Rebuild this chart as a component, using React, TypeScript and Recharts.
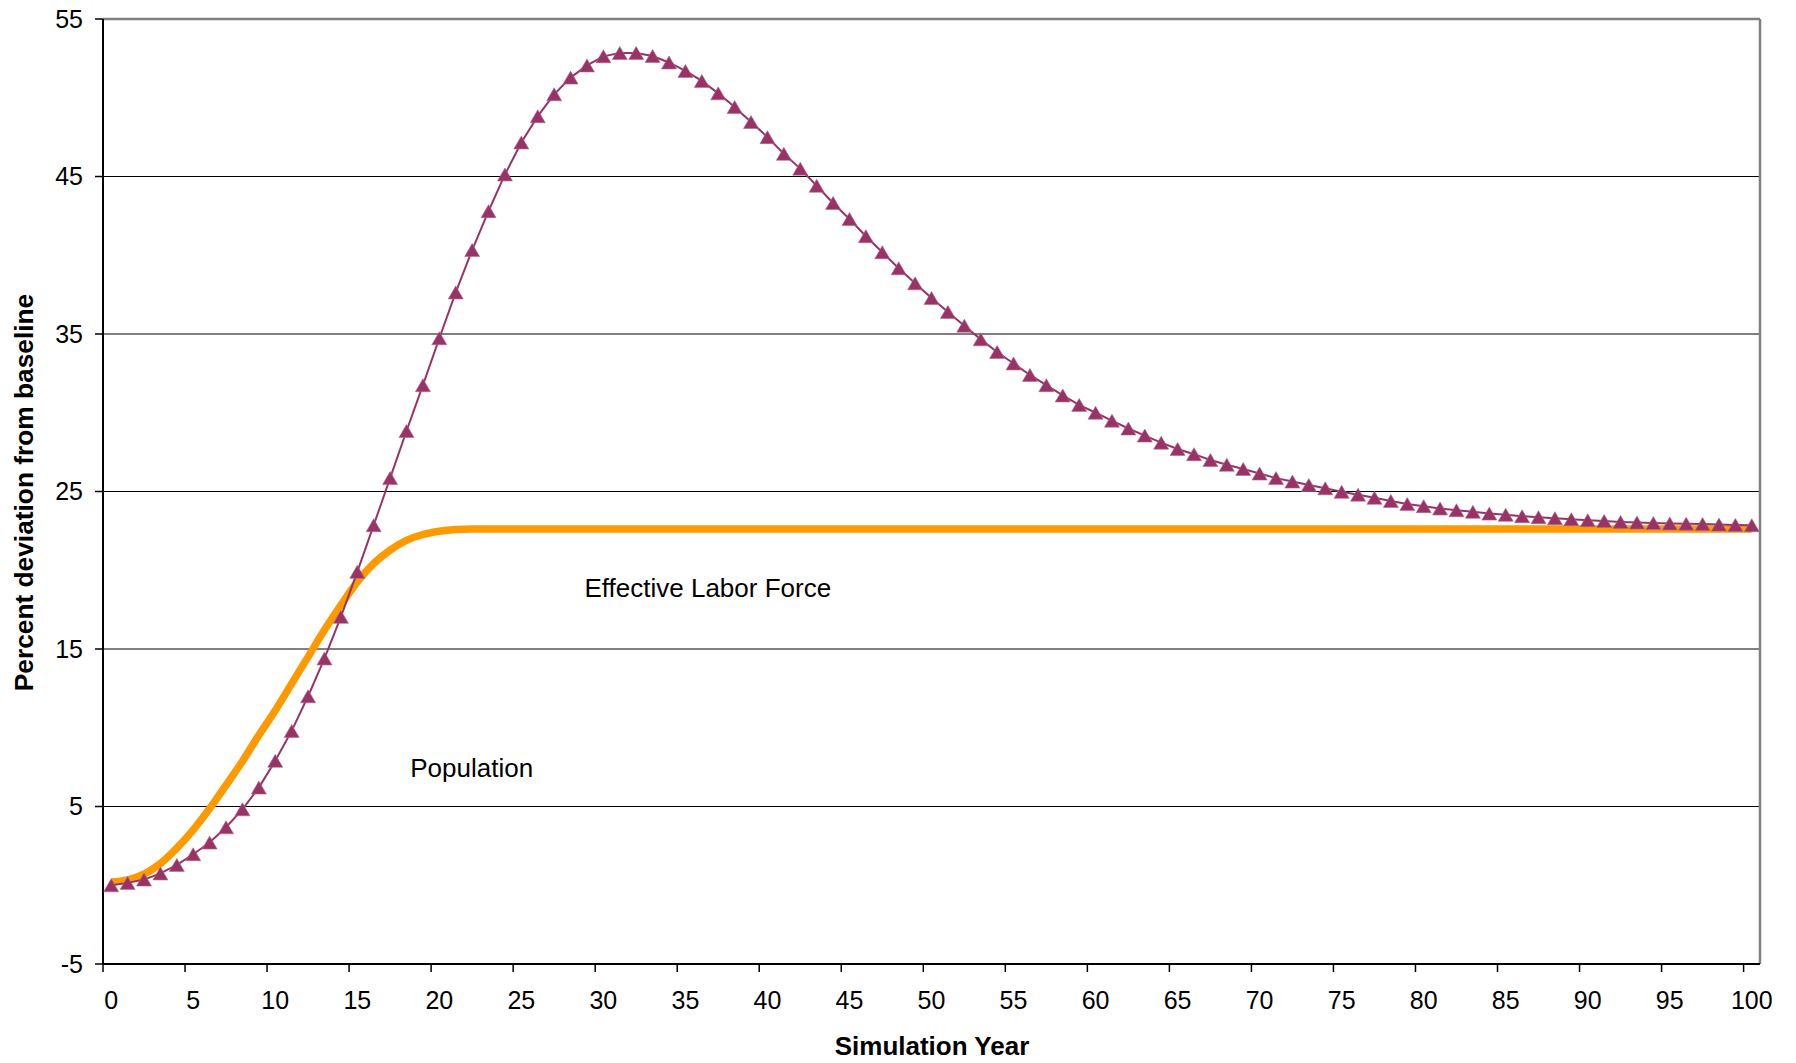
import React from 'react';
import {
  LineChart,
  Line,
  XAxis,
  YAxis,
  CartesianGrid,
  ReferenceLine,
  ReferenceDot,
} from 'recharts';

// ---------- data ----------
const YEARS: number[] = Array.from({ length: 101 }, (_, i) => i);

const X_TICK_LABELS = [0, 5, 10, 15, 20, 25, 30, 35, 40, 45, 50, 55, 60, 65, 70, 75, 80, 85, 90, 95, 100];
const Y_TICKS = [-5, 5, 15, 25, 35, 45, 55];

// Orange smooth line (no markers)
const POPULATION = [
  0.2, 0.34, 0.7, 1.38, 2.36, 3.52, 4.87, 6.35, 7.87, 9.53,
  11.1, 12.8, 14.5, 16.2, 17.78, 19.26, 20.43, 21.28, 21.9, 22.27,
  22.48, 22.59, 22.62, 22.62, 22.62, 22.62, 22.62, 22.62, 22.62, 22.62,
  22.62, 22.62, 22.62, 22.62, 22.62, 22.62, 22.62, 22.62, 22.62, 22.62,
  22.62, 22.62, 22.62, 22.62, 22.62, 22.62, 22.62, 22.62, 22.62, 22.62,
  22.62, 22.62, 22.62, 22.62, 22.62, 22.62, 22.62, 22.62, 22.62, 22.62,
  22.62, 22.62, 22.62, 22.62, 22.62, 22.62, 22.62, 22.62, 22.62, 22.62,
  22.62, 22.62, 22.62, 22.62, 22.62, 22.62, 22.62, 22.62, 22.62, 22.62,
  22.62, 22.62, 22.62, 22.62, 22.62, 22.62, 22.62, 22.62, 22.62, 22.62,
  22.62, 22.62, 22.62, 22.62, 22.62, 22.62, 22.62, 22.62, 22.62, 22.62,
  22.62,
];

// Triangle-marked line
const LABOR_FORCE = [
  0.0, 0.15, 0.36, 0.75, 1.29, 1.97, 2.71, 3.68, 4.82, 6.2,
  7.9, 9.8, 12.0, 14.4, 17.04, 19.9, 22.86, 25.85, 28.84, 31.75,
  34.73, 37.64, 40.33, 42.8, 45.13, 47.16, 48.83, 50.22, 51.28, 52.05,
  52.63, 52.84, 52.84, 52.65, 52.24, 51.7, 51.07, 50.28, 49.41, 48.46,
  47.5, 46.44, 45.5, 44.41, 43.32, 42.3, 41.21, 40.19, 39.17, 38.22,
  37.28, 36.4, 35.53, 34.66, 33.86, 33.13, 32.4, 31.75, 31.1, 30.5,
  30.0, 29.5, 29.0, 28.55, 28.1, 27.7, 27.37, 27.0, 26.7, 26.43,
  26.14, 25.85, 25.63, 25.41, 25.2, 24.98, 24.8, 24.6, 24.4, 24.2,
  24.07, 23.92, 23.81, 23.71, 23.6, 23.52, 23.43, 23.37, 23.3, 23.24,
  23.18, 23.13, 23.07, 23.03, 23.0, 22.97, 22.95, 22.93, 22.9, 22.88,
  22.86,
];

const ANNOTATIONS = [
  { text: 'Effective Labor Force', year: 28.94, value: 18.29 },
  { text: 'Population', year: 18.32, value: 6.88 },
];

const chartData = YEARS.map((year, i) => ({
  year,
  population: POPULATION[i],
  laborForce: LABOR_FORCE[i],
}));

// ---------- layout ----------
const FONT = '"Liberation Sans", Arial, Helvetica, sans-serif';
const CHART_W = 1780;
const CHART_H = 1063;
const MARGIN = { top: 19, right: 28, left: 15, bottom: 0 };
const Y_AXIS_W = 80;
const X_AXIS_H = 99;
const PLOT_W = CHART_W - MARGIN.left - MARGIN.right - Y_AXIS_W;
const HALF_BAND = PLOT_W / YEARS.length / 2;

const XTick = (props: any) => {
  const { x, y, payload } = props;
  const label = Math.round(payload.value + 0.5);
  return (
    <text
      x={x + HALF_BAND}
      y={y}
      dy="0.71em"
      textAnchor="middle"
      fontSize={25}
      fontFamily={FONT}
      fill="#000"
    >
      {label}
    </text>
  );
};

const YTick = (props: any) => {
  const { x, y, payload } = props;
  return (
    <text
      x={x}
      y={y}
      dy="0.355em"
      textAnchor="end"
      fontSize={25}
      fontFamily={FONT}
      fill="#000"
    >
      {payload.value}
    </text>
  );
};

const TriangleDot = (props: any) => {
  const { cx, cy, index } = props;
  if (cx == null || cy == null) return <g key={`tri-${index}`} />;
  const w = 15;
  const h = 13;
  const pts = `${cx},${cy - h / 2} ${cx + w / 2},${cy + h / 2} ${cx - w / 2},${cy + h / 2}`;
  return <polygon key={`tri-${index}`} points={pts} fill="#993366" stroke="#b06a8c" strokeWidth={0.6} />;
};

const XTitle = (props: any) => {
  const { viewBox } = props;
  return (
    <text
      x={viewBox.x + viewBox.width / 2 + 0.5}
      y={viewBox.y + 91}
      textAnchor="middle"
      fontSize={26}
      fontWeight="bold"
      fontFamily={FONT}
      fill="#000"
    >
      Simulation Year
    </text>
  );
};

const YTitle = (props: any) => {
  const { viewBox } = props;
  const cx = viewBox.x + 1;
  const cy = viewBox.y + viewBox.height / 2 + 1;
  return (
    <text
      x={cx}
      y={cy}
      transform={`rotate(-90, ${cx}, ${cy})`}
      textAnchor="middle"
      dominantBaseline="central"
      fontSize={26.3}
      fontWeight="bold"
      fontFamily={FONT}
      fill="#000"
    >
      Percent deviation from baseline
    </text>
  );
};

const AnnotationText = (props: any) => {
  const { viewBox, text } = props;
  const x = viewBox.x + (viewBox.width || 0) / 2;
  const y = viewBox.y + (viewBox.height || 0) / 2;
  return (
    <text x={x - 1.5} y={y} fontSize={26} fontFamily={FONT} fill="#000">
      {text}
    </text>
  );
};

export default function App() {
  return (
    <div style={{ width: CHART_W, height: CHART_H, background: '#fff', marginTop: -8 }}>
      <LineChart width={CHART_W} height={CHART_H} data={chartData} margin={MARGIN}>
        <CartesianGrid horizontal vertical={false} stroke="#000" strokeWidth={1} />
        <XAxis
          dataKey="year"
          type="number"
          domain={[-0.5, 100.5]}
          ticks={X_TICK_LABELS.map((v) => v - 0.5)}
          interval={0}
          allowDataOverflow
          height={X_AXIS_H}
          tickSize={8}
          tickMargin={19.25}
          tick={<XTick />}
          axisLine={{ stroke: '#000', strokeWidth: 2 }}
          tickLine={{ stroke: '#000', strokeWidth: 1.5 }}
          label={<XTitle />}
        />
        <YAxis
          type="number"
          domain={[-5, 55]}
          ticks={Y_TICKS}
          interval={0}
          allowDataOverflow
          width={Y_AXIS_W}
          tickSize={8}
          tickMargin={12}
          tick={<YTick />}
          axisLine={{ stroke: '#000', strokeWidth: 2 }}
          tickLine={{ stroke: '#000', strokeWidth: 1.5 }}
          label={<YTitle />}
        />
        <ReferenceLine y={55} stroke="#808080" strokeWidth={2.5} />
        <ReferenceLine x={100.5} stroke="#808080" strokeWidth={2.5} />
        <Line
          type="monotone"
          dataKey="population"
          stroke="#FF9900"
          strokeWidth={7.5}
          dot={false}
          activeDot={false}
          isAnimationActive={false}
        />
        <Line
          type="linear"
          dataKey="laborForce"
          stroke="#993366"
          strokeWidth={2}
          dot={<TriangleDot />}
          activeDot={false}
          isAnimationActive={false}
        />
        {ANNOTATIONS.map((a) => (
          <ReferenceDot
            key={a.text}
            x={a.year}
            y={a.value}
            r={0}
            fill="none"
            stroke="none"
            label={<AnnotationText text={a.text} />}
          />
        ))}
      </LineChart>
    </div>
  );
}
